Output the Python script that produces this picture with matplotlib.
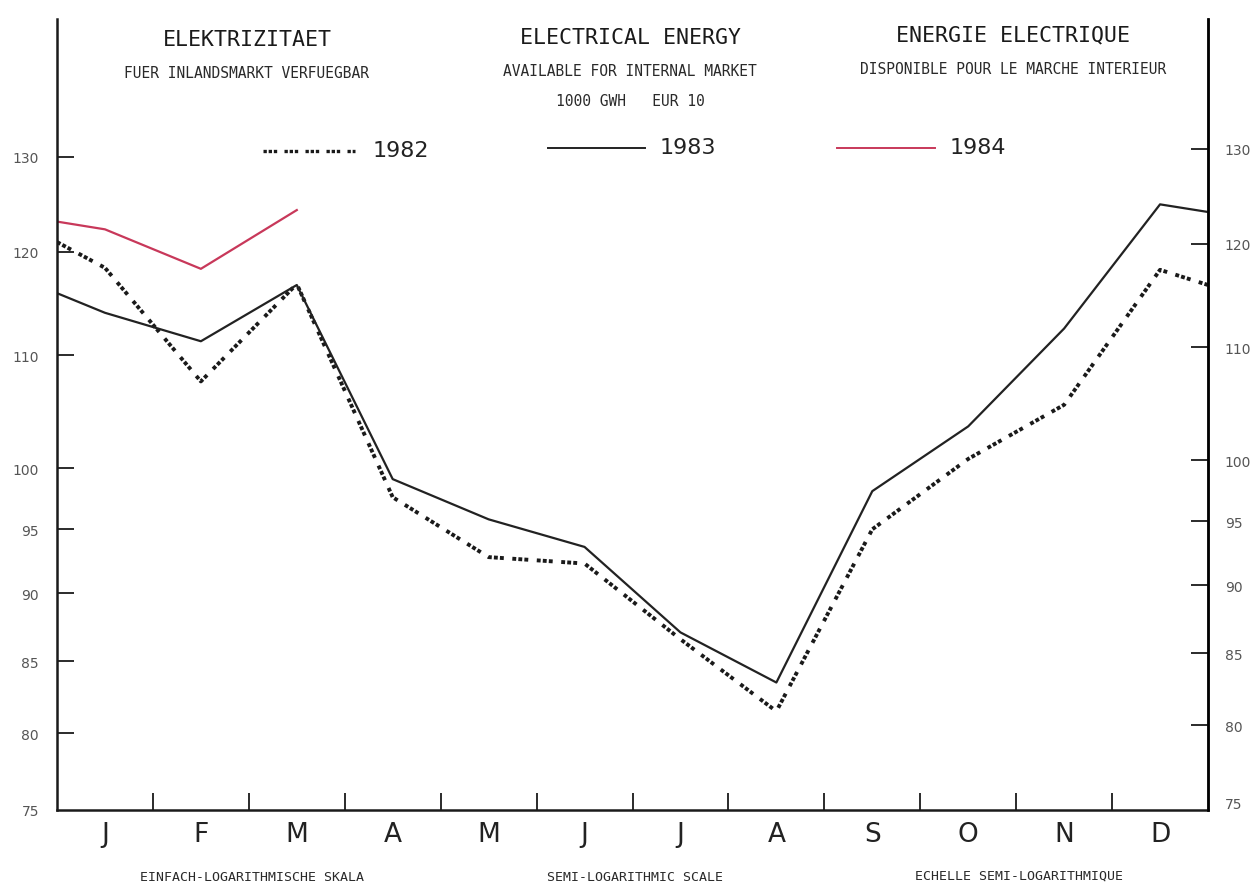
import numpy as np
import matplotlib
matplotlib.use("Agg")
import matplotlib.pyplot as plt
from matplotlib.lines import Line2D
from matplotlib.ticker import FixedLocator, FixedFormatter, NullLocator

# ---------------- data ----------------
months = ["J", "F", "M", "A", "M", "J", "J", "A", "S", "O", "N", "D"]
# values at the left edge (start of Jan), mid-month Jan..Dec, right edge (end of Dec)
v1982 = [121.0, 118.4, 107.6, 116.8, 97.6, 92.8, 92.3, 86.6, 81.5, 95.0, 100.8, 105.5, 118.2, 116.7]
v1983 = [115.9, 114.0, 111.3, 116.7, 99.1, 95.8, 93.6, 87.1, 83.5, 98.1, 103.6, 112.5, 124.9, 124.1]
v1984 = [123.1, 122.3, 118.3, 124.3]
yticks = [75, 80, 85, 90, 95, 100, 110, 120, 130]
series_names = ["1982", "1983", "1984"]

x_full = np.concatenate([[0.0], np.arange(len(months)) + 0.5, [float(len(months))]])

W, H = 1255, 887
fig = plt.figure(figsize=(W / 100, H / 100), dpi=100)
fig.patch.set_facecolor("white")

def fx(px):
    return px / W

def fy(py):
    return 1 - py / H

ax = fig.add_axes([fx(57), fy(811), fx(1208) - fx(57), fy(20) - fy(811)])
ax.set_yscale("log")
ax.set_xlim(0, 12)
ax.set_ylim(75, 146.0)

dot_style = (0, (1, 0.55, 1, 0.55, 1, 2.2))
ax.plot(x_full, v1982, color="#1a1a1a", lw=2.8, linestyle=dot_style,
        dash_capstyle="butt", solid_joinstyle="miter")
ax.plot(x_full, v1983, color="#222222", lw=1.6)
ax.plot(x_full[:len(v1984)], v1984, color="#c8385a", lw=1.6)

ax.spines["top"].set_visible(False)
for s in ["left", "right", "bottom"]:
    ax.spines[s].set_linewidth(1.8)
    ax.spines[s].set_color("#1a1a1a")

# left y ticks
ax.yaxis.set_major_locator(FixedLocator(yticks))
ax.yaxis.set_major_formatter(FixedFormatter([str(t) for t in yticks]))
ax.yaxis.set_minor_locator(NullLocator())
ax.tick_params(axis="y", which="major", direction="in", length=12, width=1.3,
               pad=13, labelsize=10, labelcolor="#555555", color="#1a1a1a")

# right twin axis (slightly shifted, as in the scanned original)
ax2 = ax.twinx()
ax2.set_yscale("log")
ax2.set_ylim(74.5, 145.0)
ax2.yaxis.set_major_locator(FixedLocator(yticks))
ax2.yaxis.set_major_formatter(FixedFormatter([str(t) for t in yticks]))
ax2.yaxis.set_minor_locator(NullLocator())
ax2.tick_params(axis="y", which="major", direction="in", length=12, width=1.3,
                pad=12, labelsize=10, labelcolor="#555555", color="#1a1a1a")
for s in ["top", "left", "bottom"]:
    ax2.spines[s].set_visible(False)
ax2.spines["right"].set_linewidth(1.8)

# x ticks: boundaries (major, inward) + month labels (minor)
ax.xaxis.set_major_locator(FixedLocator(np.arange(1, 12)))
ax.xaxis.set_major_formatter(FixedFormatter([""] * 11))
ax.xaxis.set_minor_locator(FixedLocator(np.arange(12) + 0.5))
ax.xaxis.set_minor_formatter(FixedFormatter(months))
ax.tick_params(axis="x", which="major", direction="in", length=12, width=1.3, color="#1a1a1a")
ax.tick_params(axis="x", which="minor", length=0, pad=8, labelsize=19, labelcolor="#222222")

fig.canvas.draw()
# the 75 tick marks coincide with the bottom corner in the original
for a in (ax, ax2):
    t0 = a.yaxis.get_major_ticks()[0]
    t0.tick1line.set_visible(False)
    t0.tick2line.set_visible(False)

# titles
mono = "DejaVu Sans Mono"
for cx, t1, t2, y1, y2 in [
    (247, "ELEKTRIZITAET", "FUER INLANDSMARKT VERFUEGBAR", 40, 73),
    (630, "ELECTRICAL ENERGY", "AVAILABLE FOR INTERNAL MARKET", 38, 72),
    (1013, "ENERGIE ELECTRIQUE", "DISPONIBLE POUR LE MARCHE INTERIEUR", 35, 69),
]:
    fig.text(fx(cx), fy(y1), t1, ha="center", va="center", family=mono, fontsize=15.5, color="#1a1a1a")
    fig.text(fx(cx), fy(y2), t2, ha="center", va="center", family=mono, fontsize=10.5, color="#2a2a2a")
fig.text(fx(630), fy(102), "1000 GWH   EUR 10", ha="center", va="center", family=mono,
         fontsize=10.5, color="#2a2a2a")

# legend
leg = [
    (263, 355, 152, 373, series_names[0], dict(color="#1a1a1a", lw=2.4, linestyle=dot_style, dash_capstyle="butt")),
    (548, 645, 149, 660, series_names[1], dict(color="#222222", lw=1.4)),
    (837, 935, 149, 950, series_names[2], dict(color="#c8385a", lw=1.4)),
]
for x0, x1, yy, tx, name, kw in leg:
    fig.add_artist(Line2D([fx(x0), fx(x1)], [fy(yy), fy(yy)], transform=fig.transFigure, **kw))
    fig.text(fx(tx), fy(yy - 1), name, ha="left", va="center", fontsize=16, color="#222222")

# bottom captions
for cx, yy, t in [
    (252, 878, "EINFACH-LOGARITHMISCHE SKALA"),
    (635, 878, "SEMI-LOGARITHMIC SCALE"),
    (1019, 876, "ECHELLE SEMI-LOGARITHMIQUE"),
]:
    fig.text(fx(cx), fy(yy), t, ha="center", va="center", family=mono, fontsize=9.5, color="#2a2a2a")

fig.savefig("out.png", dpi=100, facecolor="white")
